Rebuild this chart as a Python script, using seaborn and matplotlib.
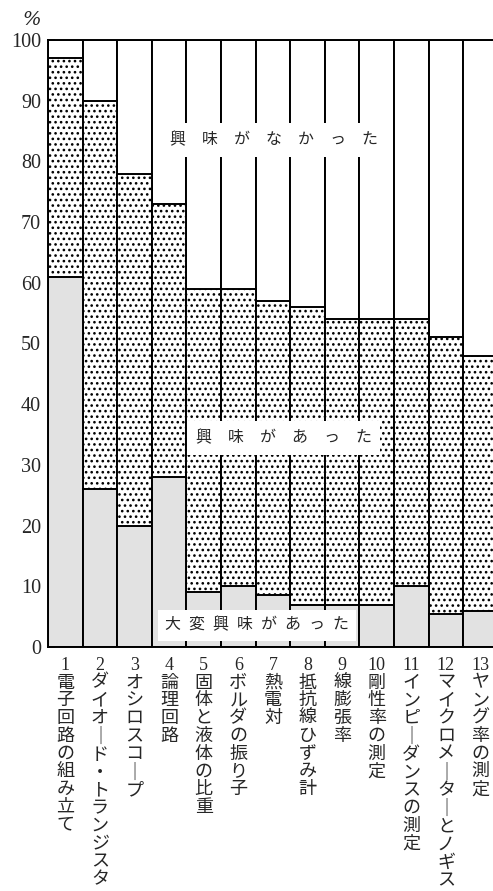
import numpy as np
import pandas as pd
import matplotlib
matplotlib.use("Agg")
import matplotlib.pyplot as plt
import seaborn as sns

# data (percent)
numbers = [str(i) for i in range(1, 14)]
experiments = [
    "電子回路の組み立て",
    "ダイオード・トランジスタ",
    "オシロスコープ",
    "論理回路",
    "固体と液体の比重",
    "ボルダの振り子",
    "熱電対",
    "抵抗線ひずみ計",
    "線膨張率",
    "剛性率の測定",
    "インピーダンスの測定",
    "マイクロメーターとノギス",
    "ヤング率の測定",
]
very_interested = [61, 26, 20, 28, 9, 10, 8.5, 7, 7, 7, 10, 5.5, 6]
interested = [36, 64, 58, 45, 50, 49, 48.5, 49, 47, 47, 44, 45.5, 42]
y_ticks = [0, 10, 20, 30, 40, 50, 60, 70, 80, 90, 100]

df = pd.DataFrame({"no": numbers, "very": very_interested, "mid": interested})
df["cum_mid"] = df["very"] + df["mid"]
df["total"] = 100

sns.set_style("white")
plt.rcParams["hatch.linewidth"] = 1.1
jp = ["Noto Sans CJK JP", "DejaVu Sans"]
serif_jp = ["Liberation Serif", "Noto Sans CJK JP", "DejaVu Sans"]

fig = plt.figure(figsize=(4.93, 8.91), dpi=100)
ax = fig.add_axes([48 / 493, (891 - 647) / 891, 1 - 48 / 493, (647 - 40) / 891])

edge = dict(edgecolor="black", linewidth=1.4, width=1.0, saturation=1, ax=ax)

# back to front: not interested (white), interested (dots), very interested (gray)
sns.barplot(data=df, x="no", y="total", color="white", **edge)
n0 = len(ax.patches)
sns.barplot(data=df, x="no", y="cum_mid", color="white", **edge)
for p in ax.patches[n0:]:
    p.set_hatch("...")
sns.barplot(data=df, x="no", y="very", color="#e2e2e2", **edge)

ax.set_xlim(-0.5, 12.36)
ax.set_ylim(0, 100)
ax.set_yticks(y_ticks)
ax.set_yticklabels([str(v) for v in y_ticks], family="Liberation Serif", fontsize=14.5)
ax.tick_params(axis="y", direction="in", length=5, width=1.2, pad=5, left=True)
ax.tick_params(axis="x", length=0, pad=7)

vertical = []
for n, name in zip(numbers, experiments):
    chars = [("｜" if c == "ー" else c) for c in name]
    vertical.append("\n".join([n] + chars))
ax.set_xticks(range(len(numbers)))
ax.set_xticklabels(vertical, family=serif_jp, fontsize=13, va="top", linespacing=1.06)

ax.set_xlabel("")
ax.set_ylabel("")
for side in ["left", "bottom", "top"]:
    ax.spines[side].set_visible(True)
    ax.spines[side].set_color("black")
    ax.spines[side].set_linewidth(1.4)
ax.spines["right"].set_visible(False)

box = dict(facecolor="white", edgecolor="none", pad=6)
ax.text(6.02, 83.5, "興　味　が　な　か　っ　た", family=jp, fontsize=11.5,
        ha="center", va="center", bbox=box, zorder=5)
ax.text(6.31, 34.4, "興　味　が　あ　っ　た", family=jp, fontsize=11.5,
        ha="center", va="center", bbox=box, zorder=5)
ax.text(5.54, 3.6, "大\u2002変\u2002興\u2002味\u2002が\u2002あ\u2002っ\u2002た", family=jp,
        fontsize=11.5, ha="center", va="center", bbox=dict(facecolor="white", edgecolor="none", pad=5), zorder=5)

fig.text(32 / 493, 1 - 20 / 891, "%", family="DejaVu Serif", style="italic",
         fontsize=14, ha="center", va="center")

fig.savefig("out.png", dpi=100, facecolor="white")
